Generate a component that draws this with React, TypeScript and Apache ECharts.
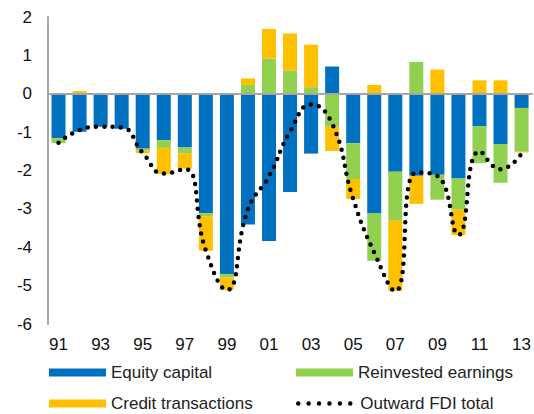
import React, { useEffect, useRef } from "react";
import * as echarts from "echarts";

const years = ["91","92","93","94","95","96","97","98","99","00","01","02","03","04","05","06","07","08","09","10","11","12","13"];
const equityCapital = [-1.16,-0.99,-0.86,-0.91,-1.43,-1.21,-1.40,-3.11,-4.70,-3.41,-3.84,-2.56,-1.56,0.71,-1.29,-3.12,-2.03,-2.14,-2.11,-2.21,-0.85,-1.31,-0.37];
const reinvestedEarnings = [-0.13,0.0,0.0,0.0,-0.05,-0.20,-0.15,-0.08,-0.09,0.23,0.92,0.60,0.17,-0.86,-0.93,-1.23,-1.28,0.83,-0.65,-0.81,-0.96,-1.01,-1.14];
const creditTransactions = [0.0,0.07,0.0,0.02,-0.07,-0.68,-0.40,-0.90,-0.32,0.17,0.77,0.97,1.11,-0.63,-0.52,0.23,-1.83,-0.73,0.63,-0.66,0.35,0.35,-0.02];
const outwardTotal = [-1.28,-0.95,-0.86,-0.88,-1.54,-2.08,-1.96,-4.09,-5.11,-3.01,-2.15,-0.99,-0.28,-0.78,-2.74,-4.14,-5.14,-2.05,-2.14,-3.68,-1.50,-1.97,-1.56];

const FONT = "'Liberation Sans', Arial, sans-serif";
const BLUE = "#0070C0";
const GREEN = "#92D050";
const YELLOW = "#FFC000";
const GRAY = "#A6A6A6";

function legendFor(name: string, left: number, top: number, isLine = false): any {
  const base: any = {
    data: [name],
    left,
    top,
    orient: "horizontal",
    padding: 0,
    itemWidth: 57,
    itemHeight: 8,
    selectedMode: false,
    textStyle: { fontSize: 17, color: "#222", fontFamily: FONT },
  };
  if (isLine) {
    base.lineStyle = { color: "#000", width: 4.5, type: [0, 10.4], cap: "round" };
    base.itemStyle = { opacity: 0, color: "transparent", borderWidth: 0 };
  } else {
    base.icon = "rect";
  }
  return base;
}

export default function App() {
  const ref = useRef<HTMLDivElement>(null);
  useEffect(() => {
    document.body.style.margin = "0";
    if (!ref.current) return;
    const chart = echarts.init(ref.current, undefined, { renderer: "svg" });
    chart.setOption({
      animation: false,
      backgroundColor: "#fff",
      textStyle: { fontFamily: FONT },
      grid: { left: 48, right: 1, top: 17, bottom: 90, containLabel: false },
      legend: [
        legendFor("Equity capital", 49, 364),
        legendFor("Reinvested earnings", 296, 364),
        legendFor("Credit transactions", 49, 395),
        legendFor("Outward FDI total", 296, 395, true),
      ],
      xAxis: [
        {
          type: "category",
          data: years,
          position: "bottom",
          axisLine: { show: false, onZero: false },
          axisTick: { show: false },
          axisLabel: { interval: 1, fontSize: 17, color: "#111", margin: 12, fontFamily: FONT },
          splitLine: { show: false },
        },
        {
          type: "category",
          data: years,
          position: "bottom",
          z: 10,
          axisLine: { show: true, onZero: true, lineStyle: { color: GRAY, width: 2 } },
          axisTick: { show: false },
          axisLabel: { show: false },
          splitLine: { show: false },
        },
      ],
      yAxis: {
        type: "value",
        min: -6,
        max: 2,
        interval: 1,
        axisLine: { show: true, onZero: false, lineStyle: { color: GRAY, width: 2 } },
        axisTick: { show: false },
        axisLabel: { fontSize: 17, color: "#111", margin: 16, fontFamily: FONT },
        splitLine: { show: false },
      },
      series: [
        {
          name: "Equity capital",
          type: "bar",
          stack: "fdi",
          data: equityCapital,
          barWidth: 14,
          itemStyle: { color: BLUE },
        },
        {
          name: "Reinvested earnings",
          type: "bar",
          stack: "fdi",
          data: reinvestedEarnings,
          barWidth: 14,
          itemStyle: { color: GREEN },
        },
        {
          name: "Credit transactions",
          type: "bar",
          stack: "fdi",
          data: creditTransactions,
          barWidth: 14,
          itemStyle: { color: YELLOW },
        },
        {
          name: "Outward FDI total",
          type: "line",
          data: outwardTotal,
          smooth: true,
          symbol: "none",
          showSymbol: false,
          z: 12,
          itemStyle: { color: "#000" },
          lineStyle: { color: "#000", width: 4.5, type: [0, 8.3], cap: "round" },
        },
      ],
    });
    return () => chart.dispose();
  }, []);
  return <div ref={ref} style={{ width: 534, height: 414 }} />;
}
